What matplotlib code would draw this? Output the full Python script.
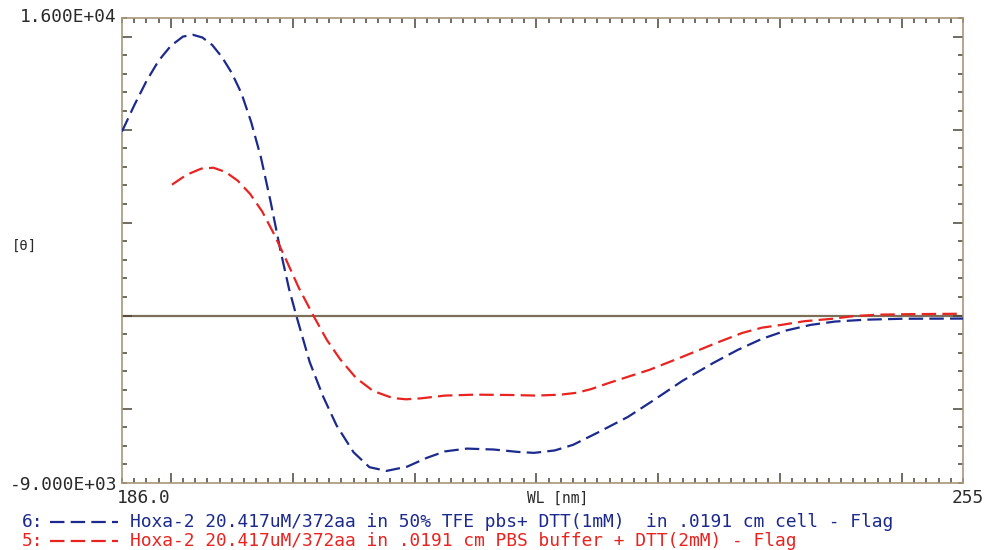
import matplotlib
matplotlib.use("Agg")
import matplotlib.pyplot as plt
from matplotlib.lines import Line2D
from matplotlib.ticker import MultipleLocator

# Longitudes de onda (nm) y elipticidad de la muestra 6 (50% TFE)
wl_tfe = [186.0, 187.0, 188.0, 189.0, 190.0, 191.0, 191.8, 192.6, 193.4, 194.2,
          195.0, 195.8, 196.6, 197.4, 198.2, 199.0, 199.7, 200.3, 201.4, 202.5,
          203.6, 205.0, 206.3, 207.7, 209.4, 211.0, 212.5, 214.3, 216.5, 218.5,
          219.8, 221.5, 223.0, 225.0, 227.5, 229.5, 232.0, 234.5, 236.5, 238.5,
          240.5, 242.5, 244.5, 247.0, 250.0, 255.0]
theta_tfe = [9900, 11300, 12600, 13700, 14500, 15000, 15100, 14950, 14550, 13900,
             13050, 11950, 10400, 8500, 6100, 3500, 1450, 0, -2500, -4350,
             -5900, -7350, -8150, -8350, -8120, -7650, -7300, -7150, -7200, -7330,
             -7380, -7250, -6950, -6300, -5450, -4600, -3500, -2550, -1850, -1250,
             -800, -500, -320, -220, -170, -160]

# Muestra 5 (buffer PBS)
wl_pbs = [190.1, 191.3, 192.5, 193.5, 194.5, 195.5, 196.5, 197.5, 198.5, 199.5,
          200.5, 201.7, 202.8, 203.9, 205.2, 206.6, 208.2, 209.3, 210.5, 212.5,
          215.0, 218.0, 220.0, 222.0, 223.3, 224.5, 226.0, 229.3, 232.0, 234.8,
          236.9, 238.5, 240.2, 242.0, 244.3, 246.0, 248.0, 251.0, 255.0]
theta_pbs = [7040, 7570, 7900, 7950, 7720, 7250, 6550, 5600, 4350, 2950,
             1500, 0, -1300, -2350, -3350, -4050, -4430, -4500, -4450, -4300,
             -4250, -4270, -4300, -4250, -4150, -3950, -3610, -2910, -2210, -1460,
             -930, -650, -490, -300, -170, -30, 50, 80, 100]

legend_tfe = "Hoxa-2 20.417uM/372aa in 50% TFE pbs+ DTT(1mM)  in .0191 cm cell - Flag"
legend_pbs = "Hoxa-2 20.417uM/372aa in .0191 cm PBS buffer + DTT(2mM) - Flag"

azul = "#1c2a8e"
rojo = "#e82420"
marco = "#a8977a"
fuente = "DejaVu Sans Mono"
tam = 12.9

fig = plt.figure(figsize=(9.86, 5.5), dpi=100)
fig.patch.set_facecolor("white")

# Ejes en coordenadas de figura (pixeles / tamano)
ax = fig.add_axes([122 / 986, 1 - 483 / 550, (963 - 122) / 986, (483 - 18) / 550])
ax.set_xlim(186, 255)
ax.set_ylim(-9000, 16000)

# Linea de cero
ax.axhline(0, color="#7a705a", lw=1.6, zorder=1)

# Curvas
ax.plot(wl_tfe, theta_tfe, color=azul, lw=1.6, dashes=(6.5, 2.8), zorder=3)
ax.plot(wl_pbs, theta_pbs, color=rojo, lw=1.6, dashes=(6.5, 2.8), zorder=3)

# Marco y ticks hacia adentro en los cuatro lados
for s in ax.spines.values():
    s.set_color(marco)
    s.set_linewidth(1.2)
ax.xaxis.set_major_locator(MultipleLocator(10))
ax.xaxis.set_minor_locator(MultipleLocator(1))
ax.yaxis.set_major_locator(MultipleLocator(5000))
ax.yaxis.set_minor_locator(MultipleLocator(1000))
ax.tick_params(which="both", direction="in", top=True, right=True,
               labelbottom=False, labelleft=False, color="#4a4438", width=1.1)
ax.tick_params(which="major", length=7)
ax.tick_params(which="minor", length=3.5)

# Textos del eje
fig.text(117 / 986, 1 - 17 / 550, "1.600E+04", family=fuente, size=tam,
         ha="right", va="center", color="#2a2a2a")
fig.text(117 / 986, 1 - 485 / 550, "-9.000E+03", family=fuente, size=tam,
         ha="right", va="center", color="#2a2a2a")
fig.text(12 / 986, 1 - 246 / 550, "[θ]", family=fuente, size=10,
         ha="left", va="center", color="#2a2a2a")
fig.text(117 / 986, 1 - 498 / 550, "186.0", family=fuente, size=tam,
         ha="left", va="center", color="#2a2a2a")
fig.text(527 / 986, 1 - 498 / 550, "WL [nm]", family=fuente, size=10.5,
         ha="left", va="center", color="#2a2a2a")
fig.text(952 / 986, 1 - 498 / 550, "255", family=fuente, size=tam,
         ha="left", va="center", color="#2a2a2a")

# Leyenda al pie
for y, num, txt, col in [(522, "6:", legend_tfe, azul), (541, "5:", legend_pbs, rojo)]:
    yf = 1 - y / 550
    fig.text(22 / 986, yf, num, family=fuente, size=tam, ha="left", va="center",
             color=col)
    fig.add_artist(Line2D([50 / 986, 118 / 986], [yf, yf], color=col, lw=1.6,
                          dashes=(6.5, 2.8), transform=fig.transFigure))
    fig.text(130 / 986, yf, txt, family=fuente, size=tam, ha="left", va="center",
             color=col)

fig.savefig("out.png", dpi=100)
